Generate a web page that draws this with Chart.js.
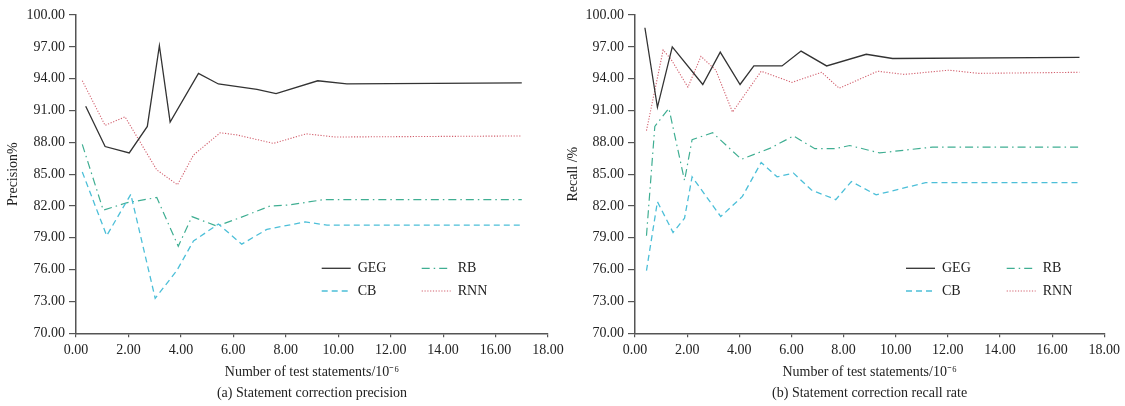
<!DOCTYPE html>
<html>
<head>
<meta charset="utf-8">
<script src="https://cdn.jsdelivr.net/npm/chart.js@4/dist/chart.umd.min.js"></script>
<style>
  html, body { margin:0; padding:0; background:#fff; }
  body { width:1125px; height:406px; position:relative; overflow:hidden; }
  canvas { position:absolute; top:0; }
  #c1 { left:0; }
  #c2 { left:560px; }
</style>
</head>
<body>
<canvas id="c1" width="580" height="406"></canvas>
<canvas id="c2" width="565" height="406"></canvas>
<script>
// ---------- DATA ----------
const seriesNames = ['GEG', 'CB', 'RB', 'RNN'];
const xTicks = [0, 2, 4, 6, 8, 10, 12, 14, 16, 18];
const yTicks = [70, 73, 76, 79, 82, 85, 88, 91, 94, 97, 100];

// (a) precision
const precGEG_x = [0.37, 1.11, 2.03, 2.72, 3.18, 3.59, 4.67, 5.43, 6.90, 7.63, 9.22, 10.33, 17.0];
const precGEG_y = [91.4, 87.6, 87.0, 89.5, 97.1, 89.9, 94.5, 93.5, 93.0, 92.6, 93.8, 93.5, 93.6];
const precCB_x  = [0.24, 1.17, 2.09, 3.02, 3.84, 4.48, 5.43, 6.32, 7.28, 8.74, 9.57, 17.0];
const precCB_y  = [85.2, 79.2, 83.1, 73.3, 75.9, 78.7, 80.3, 78.4, 79.8, 80.5, 80.2, 80.2];
const precRB_x  = [0.24, 1.04, 1.93, 3.08, 3.90, 4.42, 5.37, 6.26, 7.40, 8.14, 9.44, 17.0];
const precRB_y  = [87.8, 81.6, 82.3, 82.8, 78.2, 81.0, 80.1, 80.9, 82.0, 82.1, 82.6, 82.6];
const precRNN_x = [0.24, 1.11, 1.87, 3.08, 3.87, 4.48, 5.50, 6.13, 7.53, 8.78, 9.89, 17.0];
const precRNN_y = [93.8, 89.6, 90.4, 85.4, 84.0, 86.8, 88.9, 88.7, 87.9, 88.8, 88.5, 88.6];

// (b) recall
const recGEG_x = [0.38, 0.86, 1.43, 2.60, 3.27, 4.03, 4.56, 5.64, 6.37, 7.35, 8.87, 9.88, 17.05];
const recGEG_y = [98.8, 91.3, 97.0, 93.45, 96.5, 93.45, 95.2, 95.2, 96.6, 95.2, 96.3, 95.9, 96.0];
const recCB_x  = [0.44, 0.86, 1.46, 1.90, 2.19, 3.29, 4.12, 4.84, 5.45, 6.08, 6.77, 7.70, 8.30, 9.25, 11.15, 17.05];
const recCB_y  = [75.9, 82.4, 79.5, 80.85, 84.75, 81.0, 82.9, 86.1, 84.75, 85.1, 83.5, 82.6, 84.3, 83.05, 84.2, 84.2];
const recRB_x  = [0.44, 0.76, 1.30, 1.90, 2.19, 2.98, 4.08, 5.19, 6.08, 6.90, 7.66, 8.24, 9.38, 11.41, 17.05];
const recRB_y  = [79.2, 89.5, 91.2, 84.4, 88.25, 88.9, 86.4, 87.45, 88.6, 87.4, 87.4, 87.7, 87.0, 87.55, 87.55];
const recRNN_x = [0.44, 1.08, 1.39, 2.03, 2.53, 3.10, 3.74, 4.84, 6.02, 7.16, 7.83, 9.31, 10.33, 12.04, 13.18, 17.05];
const recRNN_y = [89.1, 96.7, 95.8, 93.2, 96.1, 94.8, 90.85, 94.7, 93.65, 94.6, 93.1, 94.7, 94.4, 94.8, 94.5, 94.6];

const xTitle = 'Number of test statements/10\u207B\u2076';
const captionA = '(a) Statement correction precision';
const captionB = '(b) Statement correction recall rate';
const yTitleA = 'Precision%';
const yTitleB = 'Recall /%';

// ---------- STYLES ----------
const styles = {
  GEG: { borderColor: '#333333', borderWidth: 1.3, borderDash: [] },
  CB:  { borderColor: '#4cbfd8', borderWidth: 1.3, borderDash: [6, 4] },
  RB:  { borderColor: '#3fae92', borderWidth: 1.2, borderDash: [8, 4, 1.5, 4] },
  RNN: { borderColor: '#d2606e', borderWidth: 1.1, borderDash: [1.2, 1.6] }
};

const zip = (xs, ys) => xs.map((x, i) => ({ x: x, y: ys[i] }));

function makeDatasets(list) {
  return list.map((s, i) => Object.assign({
    label: seriesNames[i],
    data: zip(s[0], s[1]),
    pointRadius: 0,
    pointHoverRadius: 0,
    fill: false,
    tension: 0
  }, styles[seriesNames[i]]));
}

Chart.defaults.font.family = '"Liberation Serif", "Times New Roman", serif';
Chart.defaults.font.size = 14;
Chart.defaults.color = '#222';

const gridLegend = {
  id: 'gridLegend',
  afterDraw(chart, args, opts) {
    const ctx = chart.ctx;
    ctx.save();
    ctx.font = '14px "Liberation Serif"';
    ctx.textBaseline = 'middle';
    ctx.textAlign = 'left';
    ctx.fillStyle = '#222';
    chart.data.datasets.forEach((ds, i) => {
      const col = Math.floor(i / 2), row = i % 2;
      const x0 = opts.x + col * opts.colGap;
      const y = opts.y + row * opts.rowGap;
      ctx.strokeStyle = ds.borderColor;
      ctx.lineWidth = ds.borderWidth;
      ctx.setLineDash(ds.borderDash || []);
      ctx.beginPath();
      ctx.moveTo(x0, y);
      ctx.lineTo(x0 + opts.sample, y);
      ctx.stroke();
      ctx.setLineDash([]);
      ctx.fillText(ds.label, x0 + opts.sample + 7, y);
    });
    ctx.restore();
  }
};

function makeChart(id, datasets, yTitle, caption, yAxisW, padRight, legendPos) {
  return new Chart(document.getElementById(id), {
    type: 'line',
    data: { datasets: datasets },
    plugins: [gridLegend],
    options: {
      responsive: false,
      animation: false,
      events: [],
      layout: { padding: { left: 0, right: padRight, top: 15, bottom: 0 } },
      plugins: {
        legend: { display: false },
        tooltip: { enabled: false },
        title: {
          display: true,
          text: caption,
          position: 'bottom',
          fullSize: false,
          font: { size: 14, weight: 'normal' },
          color: '#222',
          padding: { top: 0, bottom: 4 }
        },
        gridLegend: legendPos
      },
      scales: {
        x: {
          type: 'linear',
          min: 0, max: 18,
          afterBuildTicks: (s) => { s.ticks = xTicks.map(v => ({ value: v })); },
          ticks: { callback: (v) => Number(v).toFixed(2), padding: 5, maxRotation: 0, autoSkip: false, color: '#222' },
          grid: { drawOnChartArea: false, tickLength: 4, color: '#555', lineWidth: 1.2 },
          border: { display: true, color: '#555', width: 1.5 },
          title: { display: true, text: xTitle, color: '#222', font: { size: 14 }, padding: { top: 0, bottom: 4 } },
          afterFit: (s) => { s.height = 51.9; }
        },
        y: {
          type: 'linear',
          min: 70, max: 100,
          afterBuildTicks: (s) => { s.ticks = yTicks.map(v => ({ value: v })); },
          ticks: { callback: (v) => Number(v).toFixed(2), padding: 4, color: '#222' },
          grid: { drawOnChartArea: false, tickLength: 7, color: '#555', lineWidth: 1.2 },
          border: { display: true, color: '#555', width: 1.5 },
          title: { display: true, text: yTitle, color: '#222', font: { size: 14 }, padding: { top: 4.6, bottom: 0 } },
          afterFit: (s) => { s.width = yAxisW; }
        }
      }
    }
  });
}

makeChart('c1',
  makeDatasets([[precGEG_x, precGEG_y], [precCB_x, precCB_y], [precRB_x, precRB_y], [precRNN_x, precRNN_y]]),
  yTitleA, captionA, 76, 32,
  { x: 321.7, y: 268.3, colGap: 100, rowGap: 22.7, sample: 29 });

makeChart('c2',
  makeDatasets([[recGEG_x, recGEG_y], [recCB_x, recCB_y], [recRB_x, recRB_y], [recRNN_x, recRNN_y]]),
  yTitleB, captionB, 75, 15,
  { x: 346, y: 268.3, colGap: 100.7, rowGap: 22.7, sample: 29 });
</script>
</body>
</html>
